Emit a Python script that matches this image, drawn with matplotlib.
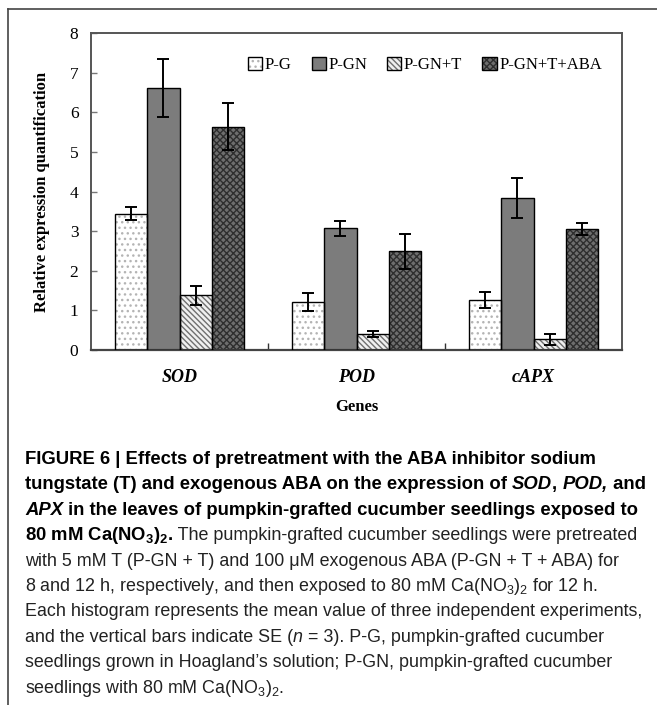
import matplotlib.pyplot as plt
import numpy as np
from matplotlib.patches import Patch
from matplotlib.lines import Line2D
from matplotlib import font_manager

genes = ["SOD", "POD", "cAPX"]
treatments = ["P-G", "P-GN", "P-GN+T", "P-GN+T+ABA"]

# mean relative expression and SE for each treatment, one value per gene
mean_pg = [3.44, 1.22, 1.27]
mean_pgn = [6.61, 3.07, 3.83]
mean_pgn_t = [1.38, 0.41, 0.27]
mean_pgn_t_aba = [5.64, 2.49, 3.05]
se_pg = [0.17, 0.23, 0.20]
se_pgn = [0.74, 0.19, 0.50]
se_pgn_t = [0.24, 0.08, 0.14]
se_pgn_t_aba = [0.60, 0.45, 0.15]

means = [mean_pg, mean_pgn, mean_pgn_t, mean_pgn_t_aba]
errors = [se_pg, se_pgn, se_pgn_t, se_pgn_t_aba]

# face colour, hatch, hatch colour
styles = [
    ("white", "...", "#b4b4b4"),
    ("#7c7c7c", "", "#7c7c7c"),
    ("#f0f0f0", "\\\\\\\\\\\\", "#707070"),
    ("#6e6e6e", "xxxxx", "#2e2e2e"),
]

W, H = 657, 705
fig = plt.figure(figsize=(W / 100, H / 100), dpi=100)
serif = "Liberation Serif"

ax = fig.add_axes([91 / W, 1 - 350 / H, 531 / W, 317 / H])

x = np.arange(len(genes)) + 0.5
width = 0.183
handles = []
for i, (m, e, (face, hatch, hc)) in enumerate(zip(means, errors, styles)):
    pos = x + (i - 1.5) * width
    ax.bar(pos, m, width, color=face, hatch=hatch, edgecolor=hc, linewidth=0, zorder=2)
    ax.bar(pos, m, width, fill=False, edgecolor="black", linewidth=1.0, zorder=3)
    ax.errorbar(pos, m, yerr=e, fmt="none", ecolor="black", elinewidth=1.4,
                capsize=4.5, capthick=1.4, zorder=4)
    handles.append((Patch(facecolor=face, hatch=hatch, edgecolor=hc, linewidth=0),
                    Patch(fill=False, edgecolor="black", linewidth=1.0)))

ax.set_xlim(0, 3)
ax.set_ylim(0, 8)
ax.set_yticks(range(9))
ax.set_yticklabels([str(v) for v in range(9)], fontfamily=serif, fontsize=12.5)
ax.tick_params(axis="y", direction="in", length=4, width=1, color="#777", pad=9)

ax.set_xticks([1, 2])
ax.set_xticklabels([])
ax.tick_params(axis="x", which="major", direction="in", length=5, width=1, color="#333")
ax.set_xticks(x, minor=True)
ax.set_xticklabels(genes, minor=True, fontfamily=serif, fontsize=13,
                   fontweight="bold", fontstyle="italic")
ax.tick_params(axis="x", which="minor", length=0, pad=14)

for side in ["left", "right", "top"]:
    ax.spines[side].set_color("#555")
    ax.spines[side].set_linewidth(1.4)
ax.spines["bottom"].set_color("#444")
ax.spines["bottom"].set_linewidth(1.6)

ax.set_ylabel("Relative expression quantification", fontfamily=serif,
              fontsize=12, fontweight="bold")
ax.yaxis.set_label_coords(-0.077, 0.5)
ax.set_xlabel("Genes", fontfamily=serif, fontsize=12, fontweight="bold", labelpad=9)

ax.legend(handles, treatments, ncol=4, frameon=False, loc="center",
          bbox_to_anchor=(0.629, 0.899), prop={"family": serif, "size": 12},
          handlelength=0.85, handleheight=0.85, handletextpad=0.15,
          columnspacing=1.2)

# open frame around the figure panel
fig.add_artist(Line2D([8 / W, 1], [1 - 9 / H, 1 - 9 / H], color="#444", lw=1.2))
fig.add_artist(Line2D([8 / W, 8 / W], [1 - 9 / H, 0], color="#444", lw=1.2))

# caption
names = {f.name for f in font_manager.fontManager.ttflist}
cap_font = "Liberation Sans Narrow" if "Liberation Sans Narrow" in names else "Liberation Sans"
plt.rcParams["mathtext.fontset"] = "custom"
plt.rcParams["mathtext.rm"] = cap_font
plt.rcParams["mathtext.bf"] = cap_font + ":bold"
plt.rcParams["mathtext.it"] = cap_font + ":italic"

B, N, I = "bold", "normal", "italic"
caption = [
    [("FIGURE 6 | Effects of pretreatment with the ABA inhibitor sodium", B, N)],
    [("tungstate (T) and exogenous ABA on the expression of ", B, N), ("SOD", B, I),
     (", ", B, N), ("POD,", B, I), (" and", B, N)],
    [("APX", B, I), (" in the leaves of pumpkin-grafted cucumber seedlings exposed to", B, N)],
    [(r"80 mM Ca(NO$_\mathbf{3}$)$_\mathbf{2}$.", B, N),
     (" The pumpkin-grafted cucumber seedlings were pretreated", N, N)],
    [("with 5 mM T (P-GN + T) and 100 \u03bcM exogenous ABA (P-GN + T + ABA) for", N, N)],
    [(r"8 and 12 h, respectively, and then exposed to 80 mM Ca(NO$_3$)$_2$ for 12 h.", N, N)],
    [("Each histogram represents the mean value of three independent experiments,", N, N)],
    [("and the vertical bars indicate SE (", N, N), ("n", N, I),
     (" = 3). P-G, pumpkin-grafted cucumber", N, N)],
    [("seedlings grown in Hoagland\u2019s solution; P-GN, pumpkin-grafted cucumber", N, N)],
    [(r"seedlings with 80 mM Ca(NO$_3$)$_2$.", N, N)],
]

renderer = fig.canvas.get_renderer()
for k, pieces in enumerate(caption):
    y = 464 + k * 25.4
    xp = 25
    for text, weight, style in pieces:
        t = fig.text(xp / W, 1 - y / H, text, fontfamily=cap_font,
                     fontsize=13.3 if weight == B else 12.9,
                     fontweight=weight, fontstyle=style, va="baseline", ha="left",
                     color="black" if weight == B else "#222")
        xp += t.get_window_extent(renderer).width

fig.savefig("out.png", dpi=100)
